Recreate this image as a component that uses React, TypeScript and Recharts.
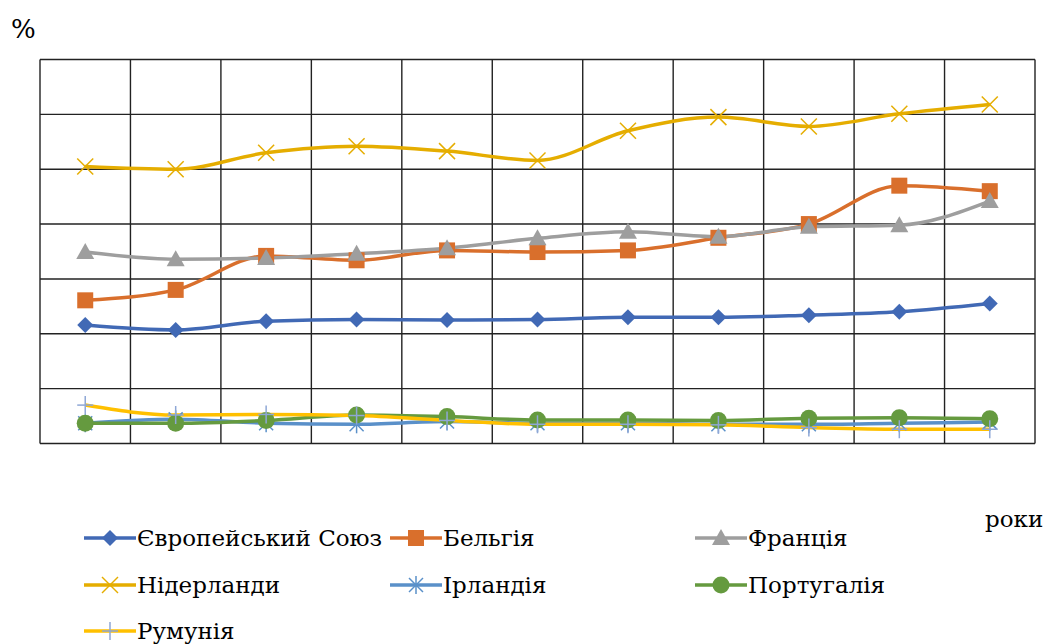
import React from 'react';
import { LineChart, Line, XAxis, YAxis, CartesianGrid } from 'recharts';

const categories = ['2008', '2009', '2010', '2011', '2012', '2013', '2014', '2015', '2016', '2017', '2018'];
const euValues = [21.6, 20.7, 22.3, 22.6, 22.5, 22.6, 23.0, 23.0, 23.4, 24.0, 25.5];
const belgiumValues = [26.1, 28.0, 34.2, 33.4, 35.2, 34.9, 35.2, 37.5, 40.0, 47.0, 46.0];
const franceValues = [34.9, 33.6, 33.8, 34.6, 35.6, 37.4, 38.6, 37.7, 39.5, 39.8, 44.2];
const netherlandsValues = [50.5, 50.0, 53.0, 54.2, 53.3, 51.6, 57.0, 59.5, 57.8, 60.1, 61.8];
const irelandValues = [3.7, 4.4, 3.7, 3.5, 4.0, 3.7, 3.7, 3.5, 3.5, 3.7, 3.9];
const portugalValues = [3.7, 3.7, 4.2, 5.2, 4.9, 4.3, 4.3, 4.2, 4.6, 4.7, 4.5];
const romaniaValues = [7.0, 5.2, 5.3, 5.1, 4.2, 3.5, 3.5, 3.4, 2.9, 2.6, 2.6];
const yTicks = [0, 10, 20, 30, 40, 50, 60, 70];
const xTicks = [0, 1, 2, 3, 4, 5, 6, 7, 8, 9, 10, 11];

const data = categories.map((c, i) => ({
  year: c,
  x: i + 0.5,
  eu: euValues[i],
  be: belgiumValues[i],
  fr: franceValues[i],
  nl: netherlandsValues[i],
  ie: irelandValues[i],
  pt: portugalValues[i],
  ro: romaniaValues[i],
}));

type Shape = 'diamond' | 'square' | 'triangle' | 'x' | 'star' | 'circle' | 'plus';

function marker(shape: Shape, cx: number, cy: number, color: string, key?: any) {
  switch (shape) {
    case 'diamond':
      return <path key={key} d={`M${cx},${cy - 8}L${cx + 8},${cy}L${cx},${cy + 8}L${cx - 8},${cy}Z`} fill={color} />;
    case 'square':
      return <rect key={key} x={cx - 8} y={cy - 8} width={16} height={16} fill={color} />;
    case 'triangle':
      return <path key={key} d={`M${cx},${cy - 9}L${cx + 9},${cy + 7}L${cx - 9},${cy + 7}Z`} fill={color} />;
    case 'x':
      return (
        <g key={key} stroke={color} strokeWidth={1.5}>
          <line x1={cx - 8} y1={cy - 8} x2={cx + 8} y2={cy + 8} />
          <line x1={cx - 8} y1={cy + 8} x2={cx + 8} y2={cy - 8} />
        </g>
      );
    case 'star':
      return (
        <g key={key} stroke={color} strokeWidth={1.5}>
          <line x1={cx - 7} y1={cy - 7} x2={cx + 7} y2={cy + 7} />
          <line x1={cx - 7} y1={cy + 7} x2={cx + 7} y2={cy - 7} />
          <line x1={cx} y1={cy - 9} x2={cx} y2={cy + 9} />
        </g>
      );
    case 'circle':
      return <circle key={key} cx={cx} cy={cy} r={8.5} fill={color} />;
    case 'plus':
      return (
        <g key={key} stroke={color} strokeWidth={1.5}>
          <line x1={cx - 8} y1={cy} x2={cx + 8} y2={cy} />
          <line x1={cx} y1={cy - 9} x2={cx} y2={cy + 9} />
        </g>
      );
  }
  return null;
}

const series = [
  { key: 'eu', name: 'Європейський Союз', color: '#4169B5', mcolor: '#4169B5', shape: 'diamond' as Shape },
  { key: 'be', name: 'Бельгія', color: '#D96F2C', mcolor: '#D96F2C', shape: 'square' as Shape },
  { key: 'fr', name: 'Франція', color: '#9E9E9E', mcolor: '#9E9E9E', shape: 'triangle' as Shape },
  { key: 'nl', name: 'Нідерланди', color: '#E5AD00', mcolor: '#E5AD00', shape: 'x' as Shape },
  { key: 'ie', name: 'Ірландія', color: '#5A90C9', mcolor: '#5A90C9', shape: 'star' as Shape },
  { key: 'pt', name: 'Португалія', color: '#659A3F', mcolor: '#659A3F', shape: 'circle' as Shape },
  { key: 'ro', name: 'Румунія', color: '#FFC000', mcolor: '#8EA7D6', shape: 'plus' as Shape },
];

const legendCols = [84, 390, 695];
const legendRows = [538, 585, 631];

const font = "'DejaVu Serif', 'Liberation Serif', serif";

function LegendBlock() {
  return (
    <>
      {series.map((s, i) => {
        const left = legendCols[i % 3];
        const top = legendRows[Math.floor(i / 3)];
        return (
          <div key={s.key} style={{ position: 'absolute', left, top: top - 16, height: 32, display: 'flex', alignItems: 'center', whiteSpace: 'nowrap' }}>
            <svg width={52} height={32} style={{ display: 'block' }}>
              <line x1={0} y1={16} x2={52} y2={16} stroke={s.color} strokeWidth={3.5} />
              {marker(s.shape, 26, 16, s.mcolor)}
            </svg>
            <span style={{ fontFamily: font, fontSize: 23, lineHeight: '32px', color: '#000', marginLeft: 1 }}>{s.name}</span>
          </div>
        );
      })}
    </>
  );
}

export default function App() {
  return (
    <div style={{ position: 'absolute', left: 0, top: 0, width: 1046, height: 644, background: '#fff' }}>
      <LineChart width={1046} height={644} data={data} margin={{ top: 59.5, left: 40, right: 11, bottom: 200.5 }}>
        <CartesianGrid stroke="#222" strokeWidth={1.4} horizontal vertical />
        <XAxis type="number" dataKey="x" domain={[0, 11]} ticks={xTicks} hide />
        <YAxis type="number" domain={[0, 70]} ticks={yTicks} hide />
        {series.map((s) => (
          <Line
            key={s.key}
            type="monotone"
            dataKey={s.key}
            name={s.name}
            stroke={s.color}
            strokeWidth={3.5}
            isAnimationActive={false}
            dot={(p: any) => marker(s.shape, p.cx, p.cy, s.mcolor, `${s.key}-${p.index}`)}
            activeDot={false}
          />
        ))}
      </LineChart>
      <div style={{ position: 'absolute', left: 11, top: 14, fontFamily: font, fontSize: 26, color: '#000' }}>%</div>
      <div style={{ position: 'absolute', left: 985, top: 506, fontFamily: font, fontSize: 23, color: '#000' }}>роки</div>
      <LegendBlock />
    </div>
  );
}
